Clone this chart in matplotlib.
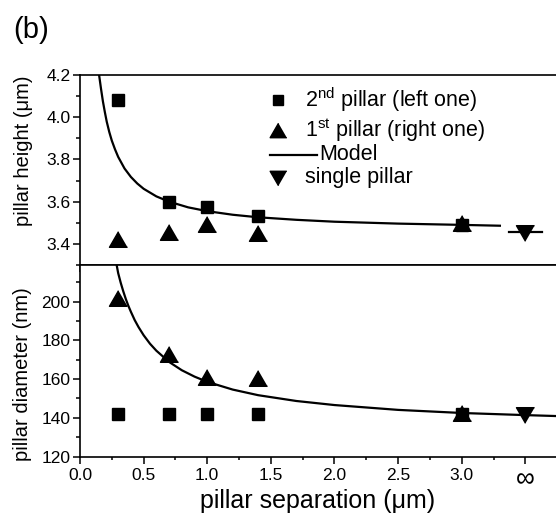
import matplotlib as mpl
mpl.use("Agg")
import matplotlib.pyplot as plt
import matplotlib.ticker as ticker

# ------------------------------------------------------------
# data
# ------------------------------------------------------------
sep      = [0.3, 0.7, 1.0, 1.4, 3.0]     # pillar separation (um)
sep_inf  = [3.5]                          # position of the "infinity" tick

h_second = [4.082, 3.600, 3.573, 3.530, 3.490]
h_first  = [3.425, 3.455, 3.495, 3.450, 3.497]
h_single = [3.451]

d_second = [142.2, 142.2, 142.2, 142.2, 142.2]
d_first  = [201.9, 173.0, 161.0, 160.8, 142.6]
d_single = [141.3]

# model curves
model_h_x = [0.150, 0.165, 0.18, 0.195, 0.21, 0.23, 0.25, 0.275, 0.30, 0.35,
             0.40, 0.45, 0.50, 0.60, 0.70, 0.85, 1.0, 1.2, 1.4, 1.7,
             2.0, 2.5, 3.0, 3.3]
model_h_y = [4.200, 4.135, 4.075, 4.025, 3.979, 3.930, 3.889, 3.848, 3.812, 3.757,
             3.717, 3.686, 3.661, 3.625, 3.600, 3.573, 3.555, 3.538, 3.526, 3.514,
             3.505, 3.496, 3.490, 3.486]
model_h_inf_x = [3.37, 3.63]
model_h_inf_y = [3.455, 3.455]

model_d_x = [0.288, 0.30, 0.32, 0.34, 0.36, 0.38, 0.40, 0.43, 0.46, 0.50,
             0.55, 0.60, 0.70, 0.80, 0.90, 1.0, 1.2, 1.4, 1.7, 2.0,
             2.5, 3.0, 3.5, 3.8]
model_d_y = [219.0, 214.8, 209.8, 205.4, 201.4, 197.9, 194.8, 190.5, 186.9, 182.7,
             178.3, 174.7, 168.9, 164.6, 161.3, 158.6, 154.6, 151.7, 148.7, 146.6,
             144.1, 142.5, 141.4, 140.8]

xtick_pos = [0.0, 0.5, 1.0, 1.5, 2.0, 2.5, 3.0, 3.5]
xtick_lab = ["0.0", "0.5", "1.0", "1.5", "2.0", "2.5", "3.0", "\u221e"]

# ------------------------------------------------------------
# style
# ------------------------------------------------------------
plt.rcParams["font.family"] = ["Liberation Sans", "DejaVu Sans"]
plt.rcParams["mathtext.fontset"] = "custom"
plt.rcParams["mathtext.rm"] = "Liberation Sans"
plt.rcParams["axes.linewidth"] = 1.2

TRI_UP = [(0, 0.433), (-0.5, -0.433), (0.5, -0.433)]
TRI_DN = [(0, -0.433), (-0.5, 0.433), (0.5, 0.433)]
MS_SQ, MS_TRI = 9, 13
LW = 1.6
TICK_FS = 12.5

fig = plt.figure(figsize=(5.56, 5.2), dpi=100)
ax_h = fig.add_axes([0.1439, 0.4904, 0.8561, 0.3654])
ax_d = fig.add_axes([0.1439, 0.1221, 0.8561, 0.3683])

for ax in (ax_h, ax_d):
    ax.spines["right"].set_visible(False)
    ax.set_xlim(0, 3.741)

# ------------------------------------------------------------
# top panel: height
# ------------------------------------------------------------
ax_h.plot(model_h_x, model_h_y, color="k", lw=LW, zorder=2)
ax_h.plot(model_h_inf_x, model_h_inf_y, color="k", lw=LW, zorder=2)
ax_h.plot(sep, h_first, ls="none", marker=TRI_UP, ms=MS_TRI, color="k", zorder=3)
ax_h.plot(sep, h_second, ls="none", marker="s", ms=MS_SQ, color="k", zorder=4)
ax_h.plot(sep_inf, h_single, ls="none", marker=TRI_DN, ms=MS_TRI, color="k", zorder=3)

ax_h.set_ylim(3.3, 4.2)
ax_h.yaxis.set_major_locator(ticker.MultipleLocator(0.2))
ax_h.yaxis.set_minor_locator(ticker.MultipleLocator(0.1))
ax_h.yaxis.set_major_formatter(ticker.FormatStrFormatter("%.1f"))
ax_h.set_xticks(xtick_pos)
ax_h.tick_params(axis="x", which="major", direction="out", length=5, width=1.1,
                 labelbottom=False)
ax_h.tick_params(axis="y", which="major", direction="out", length=5, width=1.1,
                 labelsize=TICK_FS, pad=2)
ax_h.tick_params(axis="y", which="minor", direction="out", length=3, width=1.1)
ax_h.set_ylabel("pillar height (\u03bcm)", fontsize=14.5)
ax_h.yaxis.set_label_coords(-0.098, 0.6)

# hand-made legend (Origin style)
leg_fs = 15.5
mx, tx = 0.416, 0.473
rows = [0.868, 0.711, 0.579, 0.458]
ax_h.plot([mx], [rows[0]], marker="s", ms=7.5, color="k", ls="none",
          transform=ax_h.transAxes, clip_on=False)
ax_h.text(tx, rows[0], r"2$^{\mathregular{nd}}$ pillar (left one)", fontsize=leg_fs,
          va="center", ha="left", transform=ax_h.transAxes)
ax_h.plot([mx], [rows[1]], marker=TRI_UP, ms=12, color="k", ls="none",
          transform=ax_h.transAxes, clip_on=False)
ax_h.text(tx, rows[1], r"1$^{\mathregular{st}}$ pillar (right one)", fontsize=leg_fs,
          va="center", ha="left", transform=ax_h.transAxes)
ax_h.plot([0.399, 0.498], [rows[2], rows[2]], color="k", lw=LW,
          transform=ax_h.transAxes, clip_on=False)
ax_h.text(0.502, rows[2], "Model", fontsize=leg_fs,
          va="center", ha="left", transform=ax_h.transAxes)
ax_h.plot([mx], [rows[3]], marker=TRI_DN, ms=12, color="k", ls="none",
          transform=ax_h.transAxes, clip_on=False)
ax_h.text(tx, rows[3], "single pillar", fontsize=leg_fs,
          va="center", ha="left", transform=ax_h.transAxes)

# ------------------------------------------------------------
# bottom panel: diameter
# ------------------------------------------------------------
ax_d.plot(model_d_x, model_d_y, color="k", lw=LW, zorder=2)
ax_d.plot(sep, d_first, ls="none", marker=TRI_UP, ms=MS_TRI, color="k", zorder=3)
ax_d.plot(sep, d_second, ls="none", marker="s", ms=MS_SQ, color="k", zorder=4)
ax_d.plot(sep_inf, d_single, ls="none", marker=TRI_DN, ms=MS_TRI, color="k", zorder=3)

ax_d.set_ylim(120, 219)
ax_d.yaxis.set_major_locator(ticker.MultipleLocator(20))
ax_d.yaxis.set_minor_locator(ticker.MultipleLocator(10))
ax_d.set_xticks(xtick_pos)
ax_d.set_xticklabels(xtick_lab)
ax_d.xaxis.set_minor_locator(ticker.MultipleLocator(0.25))
ax_d.tick_params(axis="x", which="major", direction="out", length=5, width=1.1,
                 labelsize=TICK_FS, pad=3)
ax_d.get_xticklabels()[-1].set_fontsize(19)
ax_d.tick_params(axis="x", which="minor", direction="out", length=2.5, width=1.1)
ax_d.tick_params(axis="y", which="major", direction="out", length=5, width=1.1,
                 labelsize=TICK_FS, pad=2)
ax_d.tick_params(axis="y", which="minor", direction="out", length=3, width=1.1)
ax_d.set_ylabel("pillar diameter (nm)", fontsize=14.5)
ax_d.yaxis.set_label_coords(-0.1, 0.43)
ax_d.set_xlabel("pillar separation (\u03bcm)", fontsize=18)
ax_d.xaxis.set_label_coords(0.5, -0.172)

fig.text(0.023, 0.942, "(b)", fontsize=21, va="center", ha="left")

fig.savefig("out.png", dpi=100)
